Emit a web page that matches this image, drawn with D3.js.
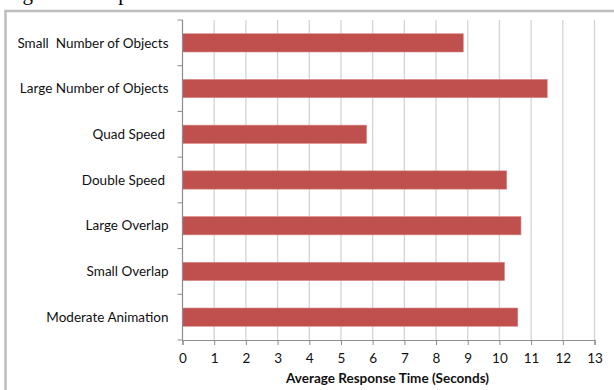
<!DOCTYPE html>
<html><head><meta charset="utf-8">
<script src="https://cdn.jsdelivr.net/npm/d3@7"></script>
<style>
html,body{margin:0;padding:0;background:#fff;}
svg{display:block;}
text{white-space:pre;}
</style></head>
<body>
<svg id="chart" width="614" height="390"></svg>
<script>
const categories = ["Small  Number of Objects","Large Number of Objects","Quad Speed ","Double Speed ","Large Overlap","Small Overlap","Moderate Animation"];
const values = [8.86, 11.51, 5.81, 10.23, 10.68, 10.16, 10.58];
const xTicks = [0,1,2,3,4,5,6,7,8,9,10,11,12,13];
const xTitle = "Average Response Time (Seconds)";
const caption = "Figure 5: Response Time";

(function(){
const svg = d3.select("#chart");
const pL = 182.5, pR = 594.5, pT = 20, pB = 340;
const x = d3.scaleLinear().domain([0,13]).range([pL,pR]);
const y = d3.scaleBand().domain(categories).range([pT,pB]).paddingInner(0.6).paddingOuter(0.3);

// partial caption at top (cropped in the reference: only descenders visible)
svg.append("text").attr("x",5).attr("y",-0.5).attr("font-family","Liberation Serif").attr("font-size",21).attr("fill","#000").text(caption);

// frame
svg.append("path").attr("d","M5.5,390 L5.5,11 L614,11").attr("fill","none").attr("stroke","#bdbdbd").attr("stroke-width",2.5);

// gridlines
svg.append("g").selectAll("line").data(xTicks.filter(d=>d>0)).join("line")
  .attr("x1",d=>x(d)).attr("x2",d=>x(d)).attr("y1",pT).attr("y2",pB)
  .attr("stroke","#d4d4d4").attr("stroke-width",1.3);

// bars
svg.append("g").selectAll("rect").data(categories).join("rect")
  .attr("x",x(0)).attr("y",d=>y(d)).attr("width",(d,i)=>x(values[i])-x(0)).attr("height",y.bandwidth())
  .attr("fill","#c0504d").attr("stroke","#d98a88").attr("stroke-width",0.6);

// x axis
const xa = svg.append("g").attr("transform",`translate(0,${pB})`)
  .call(d3.axisBottom(x).tickValues(xTicks).tickSize(5).tickPadding(8).tickFormat(d3.format("d")));
xa.select(".domain").attr("stroke","#8c8c8c").attr("stroke-width",1.2);
xa.selectAll(".tick line").attr("stroke","#8c8c8c");
xa.selectAll("text").attr("font-family","Lato").attr("font-size",13.5).attr("fill","#111");

// y axis
const bounds = d3.range(categories.length+1).map(i=>pT + i*(pB-pT)/categories.length);
svg.append("line").attr("x1",pL).attr("x2",pL).attr("y1",pT).attr("y2",pB).attr("stroke","#8c8c8c").attr("stroke-width",1.2);
svg.append("g").selectAll("line").data(bounds).join("line")
  .attr("x1",pL-5).attr("x2",pL).attr("y1",d=>d).attr("y2",d=>d).attr("stroke","#8c8c8c");
svg.append("g").selectAll("text").data(categories).join("text")
  .attr("x",168.5).attr("y",d=>y(d)+y.bandwidth()/2).attr("dy","0.35em")
  .attr("text-anchor","end").attr("font-family","Lato").attr("font-size",13.5).attr("fill","#111")
  .text(d=>d);

// x title
svg.append("text").attr("x",(pL+pR)/2 - 1).attr("y",383).attr("text-anchor","middle")
  .attr("font-family","Lato").attr("font-weight","bold").attr("font-size",13.5).attr("fill","#111").text(xTitle);
})();
</script>
</body></html>
